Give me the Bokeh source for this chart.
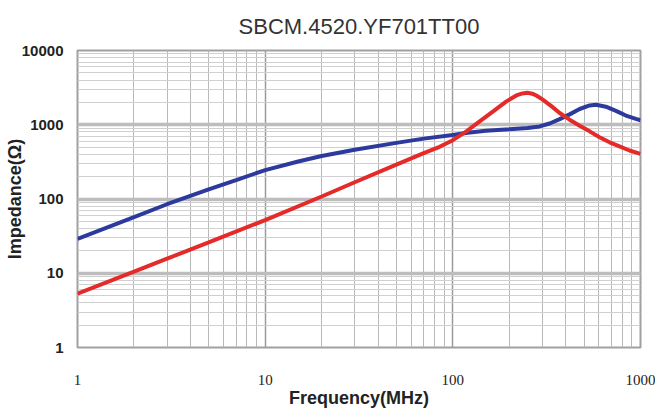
from bokeh.plotting import figure
from bokeh.models import FixedTicker
from bokeh.embed import file_html
from bokeh.resources import INLINE

# ---- data ----
title_text = "SBCM.4520.YF701TT00"
x_label = "Frequency(MHz)"
y_label = "Impedance(\u03a9)"

x_ticks = [1, 10, 100, 1000]
x_tick_labels = ["1", "10", "100", "1000"]
y_ticks = [1, 10, 100, 1000, 10000]
y_tick_labels = ["1", "10", "100", "1000", "10000"]

blue_freq = [1, 2, 3, 5, 7, 10, 15, 20, 30, 50, 70, 100, 120, 150, 200,
             250, 290, 328, 371, 419, 474, 536, 580, 654, 740, 836, 945, 1000]
blue_imp = [29, 57, 85, 135, 180, 245, 320, 380, 460, 570, 650, 730, 780,
            830, 870, 905, 950, 1040, 1190, 1380, 1630, 1820, 1860, 1750,
            1540, 1330, 1200, 1150]

red_freq = [1, 2, 3, 5, 10, 20, 30, 50, 70, 85, 100, 118, 139, 164, 193,
            218, 235, 250, 265, 280, 300, 315, 335, 371, 419, 474, 536, 605,
            684, 773, 874, 1000]
red_imp = [5.3, 10.5, 15.7, 26, 52, 108, 168, 290, 415, 505, 620, 815, 1110,
           1515, 2065, 2480, 2640, 2690, 2620, 2460, 2200, 2000, 1780, 1440,
           1170, 970, 815, 680, 580, 510, 450, 405]

minor_x = [m * d for d in [1, 10, 100] for m in range(2, 10)]
minor_y = [m * d for d in [1, 10, 100, 1000] for m in range(2, 10)]

p = figure(width=655, height=415, x_axis_type="log", y_axis_type="log",
           x_range=(1, 1000), y_range=(1, 10000),
           output_backend="svg", toolbar_location=None,
           min_border_left=77, min_border_right=15,
           min_border_top=50, min_border_bottom=68)

p.title.text = title_text
p.title.align = "center"
p.title.vertical_align = "top"
p.title.text_font = "Liberation Sans"
p.title.text_font_size = "22px"
p.title.text_font_style = "normal"
p.title.text_color = "#333333"
p.title.standoff = 20

p.line(blue_freq, blue_imp, line_color="#2b3a9c", line_width=4)
p.line(red_freq, red_imp, line_color="#e52a2a", line_width=4)

p.xaxis.ticker = FixedTicker(ticks=x_ticks, minor_ticks=minor_x)
p.yaxis.ticker = FixedTicker(ticks=y_ticks, minor_ticks=minor_y)
p.xaxis.major_label_overrides = {t: l for t, l in zip(x_ticks, x_tick_labels)}
p.yaxis.major_label_overrides = {t: l for t, l in zip(y_ticks, y_tick_labels)}

for ax in (p.xaxis, p.yaxis):
    ax.axis_line_color = None
    ax.major_tick_line_color = None
    ax.minor_tick_line_color = None
    ax.major_tick_out = 0
    ax.major_tick_in = 0
    ax.minor_tick_out = 0
    ax.minor_tick_in = 0
    ax.major_label_text_color = "#222222"
    ax.axis_label_text_color = "#222222"

p.xaxis.major_label_text_font = "Liberation Serif"
p.xaxis.major_label_text_font_size = "15px"
p.xaxis.major_label_standoff = 27
p.xaxis.axis_label = x_label
p.xaxis.axis_label_text_font = "Liberation Sans"
p.xaxis.axis_label_text_font_style = "bold"
p.xaxis.axis_label_text_font_size = "18px"
p.xaxis.axis_label_standoff = 0

p.yaxis.major_label_text_font = "Liberation Sans"
p.yaxis.major_label_text_font_style = "bold"
p.yaxis.major_label_text_font_size = "15px"
p.yaxis.major_label_standoff = 14
p.yaxis.axis_label = y_label
p.yaxis.axis_label_text_font = "Liberation Sans"
p.yaxis.axis_label_text_font_style = "bold"
p.yaxis.axis_label_text_font_size = "18px"
p.yaxis.axis_label_standoff = -6

p.xgrid.grid_line_color = "#9a9a9a"
p.xgrid.grid_line_width = 1.5
p.xgrid.minor_grid_line_color = "#b8b8b8"
p.xgrid.minor_grid_line_width = 1
p.ygrid.grid_line_color = "#bdbdbd"
p.ygrid.grid_line_width = 3.5
p.ygrid.minor_grid_line_color = "#d0d0d0"
p.ygrid.minor_grid_line_width = 1

p.outline_line_color = "#a0a0a0"
p.outline_line_width = 2
p.background_fill_color = "white"
p.border_fill_color = "white"

open("out.html", "w").write(file_html(p, INLINE))
